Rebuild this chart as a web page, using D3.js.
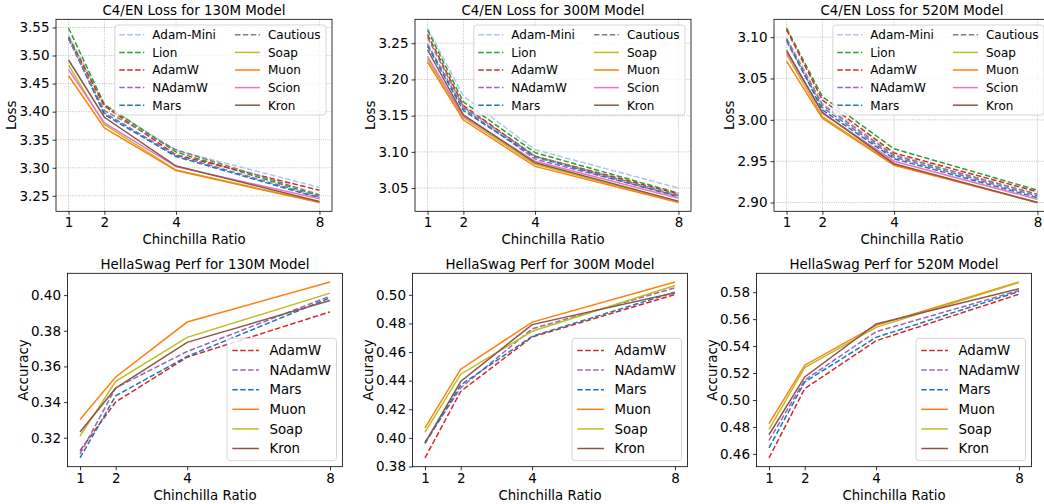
<!DOCTYPE html>
<html>
<head>
<meta charset="utf-8">
<script src="https://cdn.jsdelivr.net/npm/d3@7"></script>
<style>
  body { margin: 0; background: #fff; }
  svg { font-family: "DejaVu Sans", sans-serif; }
</style>
</head>
<body>
<div id="chart"></div>
<script>
// chinchilla ratio on the x axis, same for every panel
const ratios = [1, 2, 4, 8];

// C4/EN loss, one row per optimizer in lossOptimizers order
const lossOptimizers = ['Adam-Mini', 'Lion', 'AdamW', 'NAdamW', 'Mars', 'Cautious', 'Soap', 'Muon', 'Scion', 'Kron'];
const loss130M = [
  [3.537, 3.412, 3.331, 3.265],
  [3.549, 3.413, 3.328, 3.250],
  [3.533, 3.410, 3.323, 3.260],
  [3.530, 3.398, 3.322, 3.248],
  [3.532, 3.395, 3.320, 3.246],
  [3.530, 3.402, 3.332, 3.252],
  [3.483, 3.377, 3.296, 3.239],
  [3.464, 3.371, 3.295, 3.238],
  [3.475, 3.380, 3.302, 3.245],
  [3.492, 3.390, 3.303, 3.240]
];
const loss300M = [
  [3.271, 3.177, 3.103, 3.050],
  [3.268, 3.169, 3.099, 3.043],
  [3.262, 3.164, 3.094, 3.042],
  [3.249, 3.160, 3.090, 3.039],
  [3.246, 3.157, 3.093, 3.038],
  [3.258, 3.162, 3.094, 3.040],
  [3.228, 3.147, 3.083, 3.031],
  [3.224, 3.144, 3.080, 3.030],
  [3.232, 3.149, 3.087, 3.036],
  [3.241, 3.151, 3.085, 3.032]
];
const loss520M = [
  [3.099, 3.020, 2.958, 2.910],
  [3.111, 3.028, 2.965, 2.915],
  [3.109, 3.024, 2.960, 2.913],
  [3.095, 3.015, 2.955, 2.908],
  [3.097, 3.012, 2.953, 2.906],
  [3.098, 3.018, 2.957, 2.910],
  [3.079, 3.004, 2.946, 2.900],
  [3.071, 3.002, 2.945, 2.900],
  [3.082, 3.008, 2.950, 2.904],
  [3.084, 3.009, 2.947, 2.900]
];
const lossTicks130M = [3.25, 3.30, 3.35, 3.40, 3.45, 3.50, 3.55];
const lossTicks300M = [3.05, 3.10, 3.15, 3.20, 3.25];
const lossTicks520M = [2.90, 2.95, 3.00, 3.05, 3.10];

// HellaSwag accuracy, one row per optimizer in hellaOptimizers order
const hellaOptimizers = ['AdamW', 'NAdamW', 'Mars', 'Muon', 'Soap', 'Kron'];
const hella130M = [
  [0.3128, 0.3401, 0.3652, 0.3906],
  [0.3110, 0.3480, 0.3684, 0.3994],
  [0.3087, 0.3435, 0.3656, 0.3985],
  [0.3303, 0.3541, 0.3849, 0.4073],
  [0.3209, 0.3516, 0.3763, 0.4011],
  [0.3232, 0.3478, 0.3735, 0.3970]
];
const hella300M = [
  [0.3860, 0.4325, 0.4706, 0.5002],
  [0.3970, 0.4350, 0.4762, 0.5049],
  [0.3960, 0.4370, 0.4710, 0.5019],
  [0.4070, 0.4480, 0.4809, 0.5089],
  [0.4040, 0.4445, 0.4745, 0.5065],
  [0.3965, 0.4394, 0.4792, 0.5014]
];
const hella520M = [
  [0.4570, 0.5084, 0.5440, 0.5785],
  [0.4700, 0.5147, 0.5507, 0.5812],
  [0.4645, 0.5134, 0.5465, 0.5805],
  [0.4824, 0.5258, 0.5554, 0.5875],
  [0.4781, 0.5241, 0.5539, 0.5872],
  [0.4742, 0.5171, 0.5564, 0.5825]
];
const hellaTicks130M = [0.32, 0.34, 0.36, 0.38, 0.40];
const hellaTicks300M = [0.38, 0.40, 0.42, 0.44, 0.46, 0.48, 0.50];
const hellaTicks520M = [0.46, 0.48, 0.50, 0.52, 0.54, 0.56, 0.58];

// line styles (matplotlib tab palette)
const optColors = {
  'Adam-Mini': '#aec7e8', 'Lion': '#2ca02c', 'AdamW': '#d62728', 'NAdamW': '#9467bd',
  'Mars': '#1f77b4', 'Cautious': '#7f7f7f', 'Soap': '#bcbd22', 'Muon': '#ff7f0e',
  'Scion': '#e377c2', 'Kron': '#8c564b'
};
const dashedOpts = ['Adam-Mini', 'Lion', 'AdamW', 'NAdamW', 'Mars', 'Cautious'];

const W = 1044, H = 504;

// legend settings for the two rows
const topLegend = {fs: 12, ncol: 2, pad: 4.5, handle: 25, gap: 8, rowH: 17.6, edge: 9.8, colSpace: 19, padR: 5.5, corner: 'top'};
const bottomLegend = {fs: 13.3, ncol: 1, pad: 5.3, handle: 26.6, gap: 10.6, rowH: 19.6, edge: 12.2, colSpace: 0, padR: 5.5, corner: 'bottom'};

const panels = [
  {title: 'C4/EN Loss for 130M Model', ylabel: 'Loss', names: lossOptimizers, values: loss130M, ticks: lossTicks130M, left: 56, top: 19.3, width: 276, height: 192, grid: true, legend: topLegend},
  {title: 'C4/EN Loss for 300M Model', ylabel: 'Loss', names: lossOptimizers, values: loss300M, ticks: lossTicks300M, left: 415, top: 19.3, width: 276, height: 192, grid: true, legend: topLegend},
  {title: 'C4/EN Loss for 520M Model', ylabel: 'Loss', names: lossOptimizers, values: loss520M, ticks: lossTicks520M, left: 774, top: 19.3, width: 276, height: 192, grid: true, legend: topLegend},
  {title: 'HellaSwag Perf for 130M Model', ylabel: 'Accuracy', names: hellaOptimizers, values: hella130M, ticks: hellaTicks130M, left: 67.5, top: 273.3, width: 275, height: 193.4, grid: false, legend: bottomLegend},
  {title: 'HellaSwag Perf for 300M Model', ylabel: 'Accuracy', names: hellaOptimizers, values: hella300M, ticks: hellaTicks300M, left: 412.5, top: 273.3, width: 275, height: 193.4, grid: false, legend: bottomLegend},
  {title: 'HellaSwag Perf for 520M Model', ylabel: 'Accuracy', names: hellaOptimizers, values: hella520M, ticks: hellaTicks520M, left: 756.5, top: 273.3, width: 275, height: 193.4, grid: false, legend: bottomLegend}
];

const svg = d3.select('#chart').append('svg')
  .attr('width', W)
  .attr('height', H);

function styleLine(sel, name) {
  sel.attr('fill', 'none')
    .attr('stroke', optColors[name])
    .attr('stroke-width', 1.5)
    .attr('stroke-dasharray', dashedOpts.includes(name) ? '5.5,2.4' : null);
}

function drawPanel(p) {
  let g = svg.append('g');
  let right = p.left + p.width;
  let bottom = p.top + p.height;

  // matplotlib style 5% margins
  let xPad = (d3.max(ratios) - d3.min(ratios)) * 0.05;
  let x = d3.scaleLinear()
    .domain([d3.min(ratios) - xPad, d3.max(ratios) + xPad])
    .range([p.left, right]);
  let ext = d3.extent(p.values.flat());
  let yPad = (ext[1] - ext[0]) * 0.05;
  let y = d3.scaleLinear()
    .domain([ext[0] - yPad, ext[1] + yPad])
    .range([bottom, p.top]);

  if (p.grid) {
    let grid = g.append('g')
      .attr('stroke', '#b0b0b0')
      .attr('stroke-width', 0.8)
      .attr('stroke-dasharray', '1,1.3');
    grid.selectAll('.gx').data(ratios).enter().append('line')
      .attr('x1', d => x(d)).attr('x2', d => x(d))
      .attr('y1', p.top).attr('y2', bottom);
    grid.selectAll('.gy').data(p.ticks).enter().append('line')
      .attr('x1', p.left).attr('x2', right)
      .attr('y1', d => y(d)).attr('y2', d => y(d));
  }

  let line = d3.line()
    .x((d, i) => x(ratios[i]))
    .y(d => y(d));

  p.names.forEach((name, i) => {
    g.append('path')
      .datum(p.values[i])
      .attr('d', line)
      .call(styleLine, name);
  });

  // axes
  let xAxis = g.append('g')
    .attr('transform', 'translate(0,' + bottom + ')')
    .call(d3.axisBottom(x).tickValues(ratios).tickFormat(d3.format('d')).tickSize(3.5).tickPadding(3));
  let yAxis = g.append('g')
    .attr('transform', 'translate(' + p.left + ',0)')
    .call(d3.axisLeft(y).tickValues(p.ticks).tickFormat(d3.format('.2f')).tickSize(3.5).tickPadding(3));
  [xAxis, yAxis].forEach(a => {
    a.attr('font-family', null).attr('font-size', 13.5);
    a.select('.domain').remove();
    a.selectAll('line').attr('stroke', '#000').attr('stroke-width', 0.8);
    a.selectAll('text').attr('fill', '#000');
  });

  g.append('rect')
    .attr('x', p.left).attr('y', p.top)
    .attr('width', p.width).attr('height', p.height)
    .attr('fill', 'none')
    .attr('stroke', '#000')
    .attr('stroke-width', 0.8);

  // labels
  g.append('text')
    .attr('x', (p.left + right) / 2)
    .attr('y', p.top - 4.2)
    .attr('text-anchor', 'middle')
    .attr('font-size', 13.4)
    .text(p.title);
  g.append('text')
    .attr('x', (p.left + right) / 2)
    .attr('y', bottom + 33)
    .attr('text-anchor', 'middle')
    .attr('font-size', 13.3)
    .text('Chinchilla Ratio');
  g.append('text')
    .attr('transform', 'translate(' + (p.left - 40) + ',' + ((p.top + bottom) / 2) + ') rotate(-90)')
    .attr('text-anchor', 'middle')
    .attr('font-size', 13.5)
    .text(p.ylabel);

  drawLegend(g, p, right, bottom);
}

function drawLegend(g, p, right, bottom) {
  let opt = p.legend;
  let lg = g.append('g');
  let box = lg.append('rect');
  let perCol = Math.ceil(p.names.length / opt.ncol);
  let colStart = opt.pad;
  let endX = 0;
  for (let c = 0; c < opt.ncol; c++) {
    let items = p.names.slice(c * perCol, (c + 1) * perCol);
    let maxW = 0;
    items.forEach((name, i) => {
      let cy = opt.edge + i * opt.rowH;
      lg.append('line')
        .attr('x1', colStart).attr('x2', colStart + opt.handle)
        .attr('y1', cy).attr('y2', cy)
        .call(styleLine, name);
      let t = lg.append('text')
        .attr('x', colStart + opt.handle + opt.gap)
        .attr('y', cy)
        .attr('dy', '0.36em')
        .attr('font-size', opt.fs)
        .text(name);
      maxW = Math.max(maxW, t.node().getComputedTextLength());
    });
    endX = colStart + opt.handle + opt.gap + maxW;
    colStart = endX + opt.colSpace;
  }
  let bw = endX + opt.padR;
  let bh = opt.edge * 2 + (perCol - 1) * opt.rowH;
  box.attr('width', bw).attr('height', bh)
    .attr('rx', 3)
    .attr('fill', '#fff').attr('fill-opacity', 0.8)
    .attr('stroke', '#cccccc').attr('stroke-width', 0.8);
  let ly = opt.corner === 'top' ? p.top + 5.7 : bottom - 6 - bh;
  lg.attr('transform', 'translate(' + (right - 6 - bw) + ',' + ly + ')');
}

panels.forEach(drawPanel);
</script>
</body>
</html>
